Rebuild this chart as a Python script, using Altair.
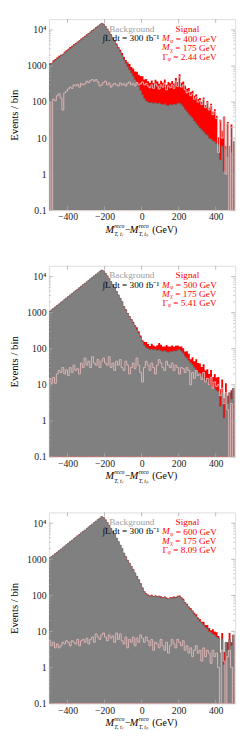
import altair as alt
import pandas as pd
import numpy as np

# ---------------- data (10 GeV bins, left edges) ----------------
edges = list(range(-500, 500, 10))

background = [
    1100, 1200, 1320, 1450, 1600, 1750, 1930, 2100, 2320, 2550,
    2800, 3100, 3400, 3750, 4100, 4500, 4950, 5450, 6000, 6550,
    7200, 7950, 8700, 9600, 10500, 11600, 12700, 14000, 15300, 14500,
    12500, 10500, 8800, 7300, 6000, 4900, 3900, 3100, 2500, 2000,
    1500, 1200, 950, 780, 640, 520, 420, 340, 270, 210,
    160, 125, 108, 100, 95, 98, 92, 96, 90, 94,
    88, 85, 90, 82, 80, 85, 83, 88, 86, 92,
    95, 85, 75, 62, 55, 47, 41, 36, 30, 26,
    22, 19, 17, 15, 13, 12, 10, 9.5, 8.5, 8,
    7, 6.5, 2.5, 6, 1.2, 5, 3, 6, 4, 8,
]

signal_400 = [
    100, 0, 120, 110, 150, 170, 130, 60, 180, 200,
    230, 260, 240, 300, 280, 310, 260, 330, 300, 320,
    380, 350, 400, 420, 380, 420, 360, 280, 300, 350,
    380, 300, 340, 260, 300, 330, 300, 280, 340, 300,
    320, 280, 330, 360, 300, 330, 280, 350, 300, 320,
    360, 300, 330, 280, 250, 300, 240, 320, 280, 230,
    300, 260, 330, 220, 280, 250, 300, 240, 380, 270,
    500, 260, 300, 220, 180, 200, 150, 170, 120, 140,
    100, 110, 85, 120, 70, 95, 60, 80, 45, 55,
    35, 4, 30, 10, 40, 1, 25, 0, 20, 0,
]

signal_500 = [
    15, 11, 16, 11, 20, 25, 22, 30, 20, 26,
    18, 30, 22, 35, 25, 28, 20, 40, 30, 55,
    35, 45, 30, 60, 40, 35, 50, 30, 45, 55,
    40, 35, 60, 30, 40, 25, 45, 35, 50, 30,
    25, 45, 35, 20, 30, 40, 28, 55, 35, 22,
    12, 30, 45, 35, 25, 40, 30, 20, 35, 50,
    40, 30, 25, 45, 35, 30, 40, 25, 35, 30,
    20, 30, 28, 22, 30, 25, 10, 22, 15, 25,
    18, 20, 14, 22, 12, 15, 10, 16, 8, 12,
    9, 10, 5, 8, 3, 6, 2, 0, 3, 0,
]

signal_600 = [
    5.5, 4, 5, 3.5, 4.5, 3.5, 4, 5, 4.5, 5.5,
    5, 4, 5.5, 5, 4.5, 6, 4, 5.5, 6, 5,
    6.5, 4.5, 6, 7, 5, 8.5, 7, 6, 8, 9,
    7, 5.5, 8, 6.5, 7.5, 5, 9, 6, 8.5, 5.5,
    4.5, 7, 3.5, 6, 5, 7, 4, 6.5, 5, 8,
    6.5, 5, 7, 5.5, 4, 6, 3, 5, 4.5, 3.5,
    6, 4, 3, 5, 2.5, 4, 6, 4.5, 3.5, 6,
    5, 4, 5.5, 3, 4, 2.5, 3.5, 2, 3, 4,
    2.5, 3, 1.5, 3.5, 2, 3, 2.5, 1.3, 3, 2,
    2.5, 1, 0, 3, 1.5, 0, 2, 3, 1, 0,
]

signal_masses = ["400", "500", "600"]
signal_widths = ["2.44", "5.41", "8.09"]
signals = [signal_400, signal_500, signal_600]

y_major = [0.1, 1, 10, 100, 1000, 10000]
y_minor = [m * 10.0 ** k for k in range(-1, 5) for m in range(2, 10) if m * 10.0 ** k < 20000]
x_major = [-400, -200, 0, 200, 400]

# ---------------- styling ----------------
W, H = 191, 196
FONT = "Liberation Serif"
GRAY = "#808080"
RED = "#ff0000"
PINK = "#dcb4b4"
FRAME = "#aaaaaa"

xs = alt.Scale(domain=[-500, 505], nice=False, zero=False)
ys = alt.Scale(type="log", domain=[0.1, 20000], nice=False)


def area_frame(sig):
    xs_ = edges + [500]
    bg = background + [background[-1]]
    tot = [b + s for b, s in zip(background, sig)]
    tot = tot + [tot[-1]]
    return pd.DataFrame({"x": xs_, "bg": bg, "tot": tot, "base": 0.1})


def step_frame(sig):
    rows = [dict(o=0, x=-500, bg=0.1, tot=0.1, s=0.1)]
    for k, e in enumerate(edges):
        b = background[k]
        s = sig[k]
        t = b + s
        sc = max(s, 0.1)
        rows.append(dict(o=2 * k + 1, x=e, bg=b, tot=t, s=sc))
        rows.append(dict(o=2 * k + 2, x=e + 10, bg=b, tot=t, s=sc))
    rows.append(dict(o=999, x=500, bg=0.1, tot=0.1, s=0.1))
    return pd.DataFrame(rows)


def txt(s, x, y, size=10, color="black", align="center", style="normal", baseline="middle"):
    return alt.Chart(pd.DataFrame({"a": [0]})).mark_text(
        font=FONT, fontSize=size, color=color, align=align, baseline=baseline, fontStyle=style
    ).encode(x=alt.value(x), y=alt.value(y), text=alt.value(s))


def panel(sig, mass, width):
    da = area_frame(sig)
    ds = step_frame(sig)
    xaxis = alt.Axis(values=x_major, format="d", labelFont=FONT, labelFontSize=10,
                     labelColor="#222", ticks=False, tickSize=0, domain=False, grid=False,
                     labelPadding=2, title=None)
    yaxis = alt.Axis(values=y_major, format="~g",
                     labelExpr="datum.value >= 9999 ? '10⁴' : datum.label",
                     labelFont=FONT, labelFontSize=10, labelColor="#222", ticks=False, tickSize=0,
                     domain=False, grid=False, labelPadding=3, title="Events / bin",
                     titleFont=FONT, titleFontSize=11, titleFontWeight="normal",
                     titleColor="black", titlePadding=7)
    red_area = alt.Chart(da).mark_area(color=RED, clip=True, interpolate="step-after", opacity=1).encode(
        x=alt.X("x:Q", scale=xs, axis=xaxis),
        y=alt.Y("tot:Q", scale=ys, axis=yaxis, stack=None),
        y2="base:Q")
    gray_area = alt.Chart(da).mark_area(color=GRAY, clip=True, interpolate="step-after", opacity=1).encode(
        x=alt.X("x:Q", scale=xs), y=alt.Y("bg:Q", scale=ys, stack=None), y2="base:Q")
    sb = alt.Chart(ds)
    gray_line = sb.mark_line(color="#666666", strokeWidth=0.5, clip=True).encode(
        x=alt.X("x:Q", scale=xs), y=alt.Y("bg:Q", scale=ys), order="o:Q")
    pink_line = sb.mark_line(color=PINK, strokeWidth=1, clip=True).encode(
        x=alt.X("x:Q", scale=xs), y=alt.Y("s:Q", scale=ys), order="o:Q")

    # inward frame ticks
    ymaj = pd.DataFrame({"t": y_major})
    ymin = pd.DataFrame({"t": y_minor})
    xmaj = pd.DataFrame({"t": x_major})
    tick_layers = [
        alt.Chart(ymaj).mark_rule(color=FRAME, strokeWidth=0.8).encode(
            y=alt.Y("t:Q", scale=ys), x=alt.value(0), x2=alt.value(4)),
        alt.Chart(ymaj).mark_rule(color=FRAME, strokeWidth=0.8).encode(
            y=alt.Y("t:Q", scale=ys), x=alt.value(W), x2=alt.value(W - 4)),
        alt.Chart(ymin).mark_rule(color=FRAME, strokeWidth=0.6).encode(
            y=alt.Y("t:Q", scale=ys), x=alt.value(0), x2=alt.value(2)),
        alt.Chart(ymin).mark_rule(color=FRAME, strokeWidth=0.6).encode(
            y=alt.Y("t:Q", scale=ys), x=alt.value(W), x2=alt.value(W - 2)),
        alt.Chart(xmaj).mark_rule(color=FRAME, strokeWidth=0.8).encode(
            x=alt.X("t:Q", scale=xs), y=alt.value(H), y2=alt.value(H - 4)),
        alt.Chart(xmaj).mark_rule(color=FRAME, strokeWidth=0.8).encode(
            x=alt.X("t:Q", scale=xs), y=alt.value(0), y2=alt.value(4)),
    ]

    fs = 9.5
    texts = [
        txt("Background", 85, 10, size=fs, color="#a0a0a0"),
        txt("∫L dt = 300 fb⁻¹", 84, 19.5, size=fs),
        txt("Signal", 142, 10, size=fs, color=RED),
        txt("M", 116, 19.5, size=fs, color=RED, align="left", style="italic"),
        txt("ᵩ = " + mass + " GeV", 124.5, 20, size=fs, color=RED, align="left"),
        txt("M", 116, 29, size=fs, color=RED, align="left", style="italic"),
        txt("ᵪ = 175 GeV", 124.5, 29.5, size=fs, color=RED, align="left"),
        txt("Γᵩ = " + width + " GeV", 116.5, 38.5, size=fs, color=RED, align="left"),
        # x-axis title pieces
        txt("M", 58, H + 23, size=10.5, align="left", style="italic", baseline="alphabetic"),
        txt("reco", 67, H + 18, size=6, align="left", style="italic", baseline="alphabetic"),
        txt("T, tₗ", 67, H + 26.5, size=6, align="left", style="italic", baseline="alphabetic"),
        txt("−", 78, H + 23, size=10, align="left", baseline="alphabetic"),
        txt("M", 83, H + 23, size=10.5, align="left", style="italic", baseline="alphabetic"),
        txt("reco", 92, H + 18, size=6, align="left", style="italic", baseline="alphabetic"),
        txt("T, tₕ", 92, H + 26.5, size=6, align="left", style="italic", baseline="alphabetic"),
        txt("(GeV)", 106, H + 23, size=10, align="left", baseline="alphabetic"),
    ]

    return alt.layer(red_area, gray_area, gray_line, pink_line,
                     *tick_layers, *texts).properties(width=W, height=H)


panels = [panel(s, m, w) for s, m, w in zip(signals, signal_masses, signal_widths)]

chart = alt.vconcat(*panels, spacing=28).properties(
    padding={"left": 0, "top": 1, "right": 5, "bottom": 0}
).configure_view(stroke=FRAME, strokeWidth=1).configure(background="white")

chart.save("out.html", embed_options={"renderer": "svg", "actions": False})
